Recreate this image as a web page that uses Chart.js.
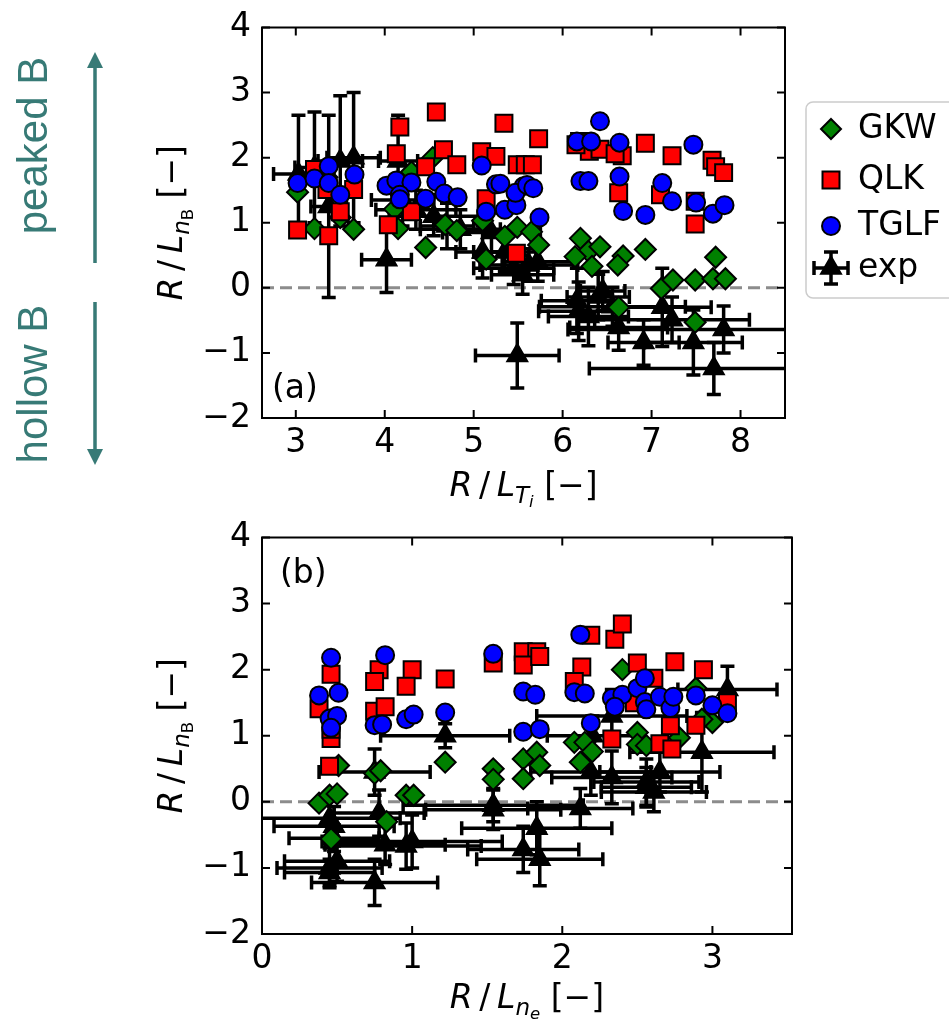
<!DOCTYPE html>
<html>
<head>
<meta charset="utf-8">
<script src="https://cdn.jsdelivr.net/npm/chart.js"></script>
<style>
  body { margin: 0; background: #fff; }
  #boxA { position: absolute; left: 0; top: 0; }
  #boxB { position: absolute; left: 0; top: 510px; }
</style>
</head>
<body>
<div id="boxA"><canvas id="chartA" width="949" height="515"></canvas></div>
<div id="boxB"><canvas id="chartB" width="949" height="513"></canvas></div>
<script>
// 축 눈금
const xTicksA = [3, 4, 5, 6, 7, 8];
const xTicksB = [0, 1, 2, 3];
const yTicks = [-2, -1, 0, 1, 2, 3, 4];
const legendNames = ['GKW', 'QLK', 'TGLF', 'exp'];

// (a) R/L_Ti  [x, y]
const gkwA = [[3.02,1.47],[3.21,0.91],[3.35,1.7],[3.5,1.08],[3.65,0.9],[4.11,1.21],[4.15,0.91],[4.3,1.78],[4.46,0.62],[4.54,2.0],
  [4.68,0.97],[4.81,0.88],[5.1,1.03],[5.14,0.44],[5.35,0.79],[5.49,0.93],[5.65,0.86],[5.73,0.66],[6.2,0.76],[6.29,0.56],
  [6.14,0.48],[6.42,0.63],[6.33,0.33],[6.68,0.49],[6.62,0.35],[6.93,0.59],[7.72,0.47],[7.11,-0.01],[7.24,0.12],[7.49,0.12],
  [7.69,0.14],[7.83,0.14],[6.63,-0.3],[7.49,-0.53]];
const qlkA = [[3.02,0.89],[3.21,1.82],[3.37,0.8],[3.35,1.51],[3.65,1.51],[3.5,1.17],[4.17,2.47],[4.13,2.06],[4.04,0.97],[4.58,2.7],
  [4.66,2.12],[4.46,1.86],[4.3,1.17],[4.81,1.89],[5.09,2.09],[5.25,2.02],[5.34,2.53],[5.14,1.37],[5.48,0.53],[5.49,1.89],
  [5.58,1.89],[5.66,1.89],[5.73,2.29],[6.19,2.25],[6.3,2.1],[6.42,2.13],[6.15,2.2],[6.63,1.46],[6.67,2.03],[6.59,2.06],
  [6.93,2.22],[7.23,2.03],[7.1,1.43],[7.68,1.96],[7.72,1.86],[7.81,1.77],[7.49,0.98],[7.49,1.33]];
const tglfA = [[3.02,1.61],[3.21,1.68],[3.37,1.87],[3.37,1.61],[3.5,1.43],[3.66,1.74],[4.02,1.57],[4.13,1.65],[4.3,1.62],[4.17,1.43],
  [4.17,1.36],[4.46,1.37],[4.58,1.63],[4.67,1.45],[4.82,1.39],[5.09,1.88],[5.25,1.59],[5.14,1.17],[5.35,1.2],[5.48,1.27],
  [5.56,1.56],[5.3,1.6],[5.47,1.46],[5.6,1.58],[5.67,1.53],[5.74,1.08],[6.42,2.56],[6.16,2.25],[6.32,2.25],[6.64,2.23],
  [6.2,1.64],[6.29,1.64],[6.64,1.71],[6.68,1.18],[6.93,1.12],[7.12,1.61],[7.23,1.33],[7.47,2.2],[7.5,1.31],[7.69,1.14],
  [7.82,1.27]];
// [x, y, xerr, yerr]
const expA = [[3.03,1.75,0.28,0.9],[3.21,1.85,0.22,0.85],[3.37,1.25,0.2,1.4],[3.5,1.95,0.25,1.0],[3.65,2.0,0.3,1.0],
  [4.02,0.43,0.28,0.5],[4.15,1.95,0.22,0.7],[4.2,1.35,0.35,0.4],[4.35,1.2,0.45,0.3],[4.55,1.1,0.5,0.3],
  [4.7,0.95,0.3,0.35],[4.85,0.9,0.45,0.3],[5.1,0.55,0.3,0.4],[5.2,0.85,0.55,0.3],[5.35,0.55,0.35,0.3],
  [5.45,0.3,0.45,0.25],[5.55,0.2,0.35,0.3],[5.62,0.35,0.55,0.25],[5.72,0.4,0.4,0.3],[5.49,-1.04,0.47,0.5],
  [6.16,-0.2,0.4,0.5],[6.18,-0.36,0.45,0.45],[6.29,-0.44,0.45,0.45],[6.4,-0.14,0.35,0.35],[6.45,-0.05,0.25,0.3],
  [6.63,-0.61,0.55,0.35],[6.91,-0.84,0.4,0.35],[7.12,-0.3,0.55,0.6],[7.23,-0.49,0.87,0.35],[7.47,-0.84,0.55,0.5],
  [7.7,-1.24,1.4,0.4],[7.81,-0.64,1.75,0.36],[6.56,-0.29,0.82,0.3]];

// (b) R/L_ne
const gkwB = [[0.51,0.55],[0.75,0.43],[0.79,0.47],[0.38,-0.02],[0.45,0.1],[0.5,0.12],[0.46,-0.56],[0.83,-0.3],[0.96,0.1],[1.01,0.1],
  [1.22,0.6],[1.54,0.5],[1.54,0.34],[1.74,0.65],[1.74,0.35],[1.83,0.75],[1.85,0.55],[2.08,0.9],[2.15,0.9],[2.2,0.76],
  [2.12,0.6],[2.4,2.0],[2.5,1.05],[2.5,0.87],[2.56,0.85],[2.78,0.97],[2.89,1.72],[3.0,1.2],[2.93,1.25]];
const qlkB = [[0.46,1.93],[0.38,1.41],[0.46,0.96],[0.45,0.54],[0.46,1.1],[0.78,2.0],[0.75,1.82],[0.75,1.37],[0.82,1.44],[1.0,2.0],
  [0.96,1.75],[1.22,1.86],[1.54,2.1],[1.74,2.27],[1.83,2.27],[1.74,2.07],[1.85,2.2],[2.19,2.52],[2.35,2.46],[2.4,2.69],
  [2.13,2.04],[2.08,1.82],[2.5,2.1],[2.75,2.12],[2.94,2.0],[2.61,1.87],[2.48,1.5],[2.33,0.95],[2.72,1.15],[2.89,1.16],
  [2.65,0.88],[2.73,0.8],[3.1,1.5]];
const tglfB = [[0.46,2.18],[0.51,1.65],[0.38,1.61],[0.45,1.26],[0.5,1.3],[0.46,1.12],[0.82,2.22],[0.75,1.16],[0.8,1.17],[0.96,1.25],
  [1.01,1.32],[1.22,1.35],[1.54,2.24],[1.74,1.67],[1.82,1.62],[1.74,1.06],[1.85,1.1],[2.12,2.53],[2.08,1.66],[2.15,1.64],
  [2.19,1.19],[2.33,1.57],[2.4,1.62],[2.35,1.44],[2.5,1.72],[2.55,1.87],[2.55,1.51],[2.56,1.4],[2.65,1.59],[2.72,1.42],
  [2.74,1.59],[2.89,1.61],[3.0,1.46],[3.1,1.34]];
const expB = [[1.22,1.0,0.43,0.18],[0.75,0.45,0.37,0.35],[1.54,-0.12,0.45,0.3],[0.45,-0.25,0.47,0.3],[0.48,-0.37,0.4,0.3],
  [0.78,-0.17,0.3,0.35],[0.82,-0.65,0.4,0.3],[0.96,-0.67,0.5,0.35],[1.0,-0.6,0.6,0.4],[0.45,-1.0,0.35,0.3],
  [0.5,-0.9,0.35,0.3],[0.45,-1.07,0.3,0.2],[0.75,-1.22,0.42,0.35],[1.74,-0.72,0.37,0.35],[1.83,-0.4,0.5,0.4],
  [1.85,-0.87,0.42,0.4],[2.12,-0.1,0.35,0.3],[2.19,0.45,0.4,0.35],[2.33,0.37,0.4,0.4],[2.56,0.22,0.3,0.3],
  [2.61,0.15,0.35,0.3],[2.56,0.3,0.35,0.35],[2.93,0.75,0.48,0.6],[3.1,1.7,0.33,0.35],[2.33,1.3,0.5,0.4],
  [2.65,0.45,0.4,0.3],[1.54,-0.05,0.6,0.25],[2.2,1.0,0.3,0.3],[0.48,-0.55,0.3,0.2]];

const FONT = '"DejaVu Sans", sans-serif';
const FS = 33;
const TEAL = '#377a76';
const minus = v => String(v).replace('-', '\u2212');

// 마커 그리기 (범례용)
const drawMarker = (ctx, style, x, y, r) => {
  ctx.beginPath();
  if (style === 'circle') ctx.arc(x, y, r, 0, Math.PI * 2);
  else if (style === 'rect') { const s = r * Math.SQRT1_2; ctx.rect(x - s, y - s, 2 * s, 2 * s); }
  else if (style === 'rectRot') { ctx.moveTo(x, y - r); ctx.lineTo(x + r, y); ctx.lineTo(x, y + r); ctx.lineTo(x - r, y); ctx.closePath(); }
  else { ctx.moveTo(x, y - r); ctx.lineTo(x + r * 0.866, y + r / 2); ctx.lineTo(x - r * 0.866, y + r / 2); ctx.closePath(); }
  ctx.fill(); ctx.stroke();
};

// 수식 텍스트 (아래첨자)
const drawMath = (ctx, parts, cx, base) => {
  const fontOf = p => (p[1] === 'i' ? 'italic ' : '') + (FS * p[2]) + 'px ' + FONT;
  let w = 0;
  parts.forEach(p => { ctx.font = fontOf(p); w += ctx.measureText(p[0]).width; });
  let x = cx - w / 2;
  ctx.textAlign = 'left'; ctx.textBaseline = 'alphabetic';
  parts.forEach(p => { ctx.font = fontOf(p); ctx.fillText(p[0], x, base + p[3] * FS); x += ctx.measureText(p[0]).width; });
};

const yTitle = [['R','i',1,0],['\u2009/\u2009','r',1,0],['L','i',1,0],['n','i',0.7,0.2],['B','r',0.5,0.34],[' [\u2212]','r',1,0]];
const xTitleA = [['R','i',1,0],['\u2009/\u2009','r',1,0],['L','i',1,0],['T','i',0.7,0.2],['i','i',0.5,0.34],[' [\u2212]','r',1,0]];
const xTitleB = [['R','i',1,0],['\u2009/\u2009','r',1,0],['L','i',1,0],['n','i',0.7,0.2],['e','i',0.5,0.34],[' [\u2212]','r',1,0]];

const makeFrame = (cfg) => ({
  id: 'frame' + cfg.panel,
  beforeDatasetsDraw(chart) {
    const { ctx, chartArea: a } = chart;
    const xs = chart.scales.x, ys = chart.scales.y;
    ctx.save();
    ctx.beginPath(); ctx.rect(a.left, a.top, a.right - a.left, a.bottom - a.top); ctx.clip();
    const y0 = ys.getPixelForValue(0);
    ctx.strokeStyle = '#8c8c8c'; ctx.lineWidth = 3; ctx.setLineDash([12, 6]);
    ctx.beginPath(); ctx.moveTo(a.left, y0); ctx.lineTo(a.right, y0); ctx.stroke();
    ctx.setLineDash([]);
    // 에러바
    ctx.strokeStyle = '#000'; ctx.lineWidth = 3.5;
    chart.data.datasets.forEach(ds => {
      if (!ds.withErr) return;
      ds.data.forEach(p => {
        const px = xs.getPixelForValue(p.x), py = ys.getPixelForValue(p.y);
        const x1 = xs.getPixelForValue(p.x - p.xe), x2 = xs.getPixelForValue(p.x + p.xe);
        const y1 = ys.getPixelForValue(p.y - p.ye), y2 = ys.getPixelForValue(p.y + p.ye);
        ctx.beginPath();
        ctx.moveTo(x1, py); ctx.lineTo(x2, py);
        ctx.moveTo(px, y1); ctx.lineTo(px, y2);
        ctx.moveTo(x1, py - 7); ctx.lineTo(x1, py + 7);
        ctx.moveTo(x2, py - 7); ctx.lineTo(x2, py + 7);
        ctx.moveTo(px - 7, y1); ctx.lineTo(px + 7, y1);
        ctx.moveTo(px - 7, y2); ctx.lineTo(px + 7, y2);
        ctx.stroke();
      });
    });
    ctx.restore();
  },
  afterDraw(chart) {
    const { ctx, chartArea: a } = chart;
    const xs = chart.scales.x, ys = chart.scales.y;
    ctx.save();
    // 테두리 + 안쪽 눈금
    ctx.strokeStyle = '#000'; ctx.lineWidth = 2;
    ctx.strokeRect(a.left, a.top, a.right - a.left, a.bottom - a.top);
    ctx.beginPath();
    cfg.xTicks.forEach(v => {
      const px = xs.getPixelForValue(v);
      ctx.moveTo(px, a.bottom); ctx.lineTo(px, a.bottom - 8);
      ctx.moveTo(px, a.top); ctx.lineTo(px, a.top + 8);
    });
    yTicks.forEach(v => {
      const py = ys.getPixelForValue(v);
      ctx.moveTo(a.left, py); ctx.lineTo(a.left + 8, py);
      ctx.moveTo(a.right, py); ctx.lineTo(a.right - 8, py);
    });
    ctx.stroke();

    // 축 제목
    ctx.fillStyle = '#000';
    drawMath(ctx, cfg.xTitle, (a.left + a.right) / 2, a.bottom + cfg.xTitleGap);
    ctx.save();
    ctx.translate(a.left - 80, (a.top + a.bottom) / 2);
    ctx.rotate(-Math.PI / 2);
    drawMath(ctx, yTitle, 0, 0);
    ctx.restore();

    // 패널 라벨
    ctx.font = FS + 'px ' + FONT; ctx.textAlign = 'left'; ctx.textBaseline = 'alphabetic';
    ctx.fillText(cfg.panel, cfg.panelPos[0], cfg.panelPos[1]);

    if (cfg.legend) {
      ctx.fillStyle = '#fff'; ctx.strokeStyle = '#cccccc'; ctx.lineWidth = 1.5;
      ctx.beginPath(); ctx.roundRect(806, 102, 160, 196, 7); ctx.fill(); ctx.stroke();
      const styles = [['rectRot', '#008000', 10, 129], ['rect', '#ff0000', 12, 180], ['circle', '#0000ff', 9, 226], ['triangle', '#000', 11.5, 268]];
      ctx.strokeStyle = '#000';
      styles.forEach((s, i) => {
        ctx.fillStyle = s[1];
        if (s[0] === 'triangle') {
          ctx.lineWidth = 3.5;
          ctx.beginPath();
          ctx.moveTo(814, s[3]); ctx.lineTo(848, s[3]);
          ctx.moveTo(831, s[3] - 16); ctx.lineTo(831, s[3] + 16);
          ctx.moveTo(814, s[3] - 7); ctx.lineTo(814, s[3] + 7);
          ctx.moveTo(848, s[3] - 7); ctx.lineTo(848, s[3] + 7);
          ctx.moveTo(824, s[3] - 16); ctx.lineTo(838, s[3] - 16);
          ctx.moveTo(824, s[3] + 16); ctx.lineTo(838, s[3] + 16);
          ctx.stroke();
        }
        ctx.lineWidth = 2;
        drawMarker(ctx, s[0], 831, s[3], s[2]);
        ctx.fillStyle = '#000'; ctx.font = FS + 'px ' + FONT; ctx.textBaseline = 'middle';
        ctx.fillText(legendNames[i], 858, s[3]);
      });
    }

    if (cfg.notes) {
      ctx.fillStyle = TEAL; ctx.strokeStyle = TEAL; ctx.lineWidth = 3.5;
      ctx.beginPath(); ctx.moveTo(95, 263); ctx.lineTo(95, 64); ctx.moveTo(95, 302); ctx.lineTo(95, 453); ctx.stroke();
      ctx.beginPath(); ctx.moveTo(95, 52); ctx.lineTo(87, 68); ctx.lineTo(103, 68); ctx.closePath(); ctx.fill();
      ctx.beginPath(); ctx.moveTo(95, 465); ctx.lineTo(87, 449); ctx.lineTo(103, 449); ctx.closePath(); ctx.fill();
      ctx.font = '42px "Liberation Sans", Arial, sans-serif'; ctx.textAlign = 'center'; ctx.textBaseline = 'alphabetic';
      [['peaked B', 145.5], ['hollow B', 384]].forEach(t => {
        ctx.save(); ctx.translate(47, t[1]); ctx.rotate(-Math.PI / 2); ctx.fillText(t[0], 0, 0); ctx.restore();
      });
    }
    ctx.restore();
  }
});

const pts = arr => arr.map(p => ({ x: p[0], y: p[1] }));
const errPts = arr => arr.map(p => ({ x: p[0], y: p[1], xe: p[2], ye: p[3] }));

const makeDatasets = (gkw, qlk, tglf, exp) => [
  { label: 'TGLF', data: pts(tglf), pointStyle: 'circle', pointRadius: 9, pointBackgroundColor: '#0000ff', pointBorderColor: '#000', pointBorderWidth: 2, order: 0 },
  { label: 'QLK', data: pts(qlk), pointStyle: 'rect', pointRadius: 12, pointBackgroundColor: '#ff0000', pointBorderColor: '#000', pointBorderWidth: 2, order: 1 },
  { label: 'GKW', data: pts(gkw), pointStyle: 'rectRot', pointRadius: 10.5, pointBackgroundColor: '#008000', pointBorderColor: '#000', pointBorderWidth: 2, order: 2 },
  { label: 'exp', data: errPts(exp), pointStyle: 'triangle', pointRadius: 11.5, pointBackgroundColor: '#000', pointBorderColor: '#000', pointBorderWidth: 2, order: 3, withErr: true }
];

const makeConfig = (datasets, xMin, xMax, xTicks, pad) => ({
  type: 'scatter',
  data: { datasets: datasets },
  options: {
    responsive: false,
    animation: false,
    events: [],
    layout: { padding: pad },
    plugins: { legend: { display: false }, tooltip: { enabled: false } },
    scales: {
      x: {
        type: 'linear', min: xMin, max: xMax,
        afterBuildTicks: s => { s.ticks = xTicks.map(v => ({ value: v })); },
        afterFit: s => { s.height = 45; },
        grid: { display: false, drawTicks: false }, border: { display: false },
        ticks: { color: '#000', padding: 9, font: { family: FONT, size: FS, lineHeight: 1 }, maxRotation: 0, callback: v => minus(v) }
      },
      y: {
        type: 'linear', min: -2, max: 4,
        afterBuildTicks: s => { s.ticks = yTicks.map(v => ({ value: v })); },
        afterFit: s => { s.width = 70; },
        grid: { display: false, drawTicks: false }, border: { display: false },
        ticks: { color: '#000', padding: 11, font: { family: FONT, size: FS, lineHeight: 1 }, callback: v => minus(v) }
      }
    }
  }
});

const cfgA = makeConfig(makeDatasets(gkwA, qlkA, tglfA, expA), 2.62, 8.5, xTicksA, { left: 192, right: 164, top: 17, bottom: 52 });
cfgA.plugins = [makeFrame({ panel: '(a)', panelPos: [272, 398], xTicks: xTicksA, xTitle: xTitleA, xTitleGap: 78, legend: true, notes: true })];
const chartA = new Chart(document.getElementById('chartA'), cfgA);

const cfgB = makeConfig(makeDatasets(gkwB, qlkB, tglfB, expB), 0, 3.53, xTicksB, { left: 192, right: 157, top: 23, bottom: 44 });
cfgB.plugins = [makeFrame({ panel: '(b)', panelPos: [280, 73], xTicks: xTicksB, xTitle: xTitleB, xTitleGap: 74, legend: false, notes: false })];
const chartB = new Chart(document.getElementById('chartB'), cfgB);
</script>
</body>
</html>
